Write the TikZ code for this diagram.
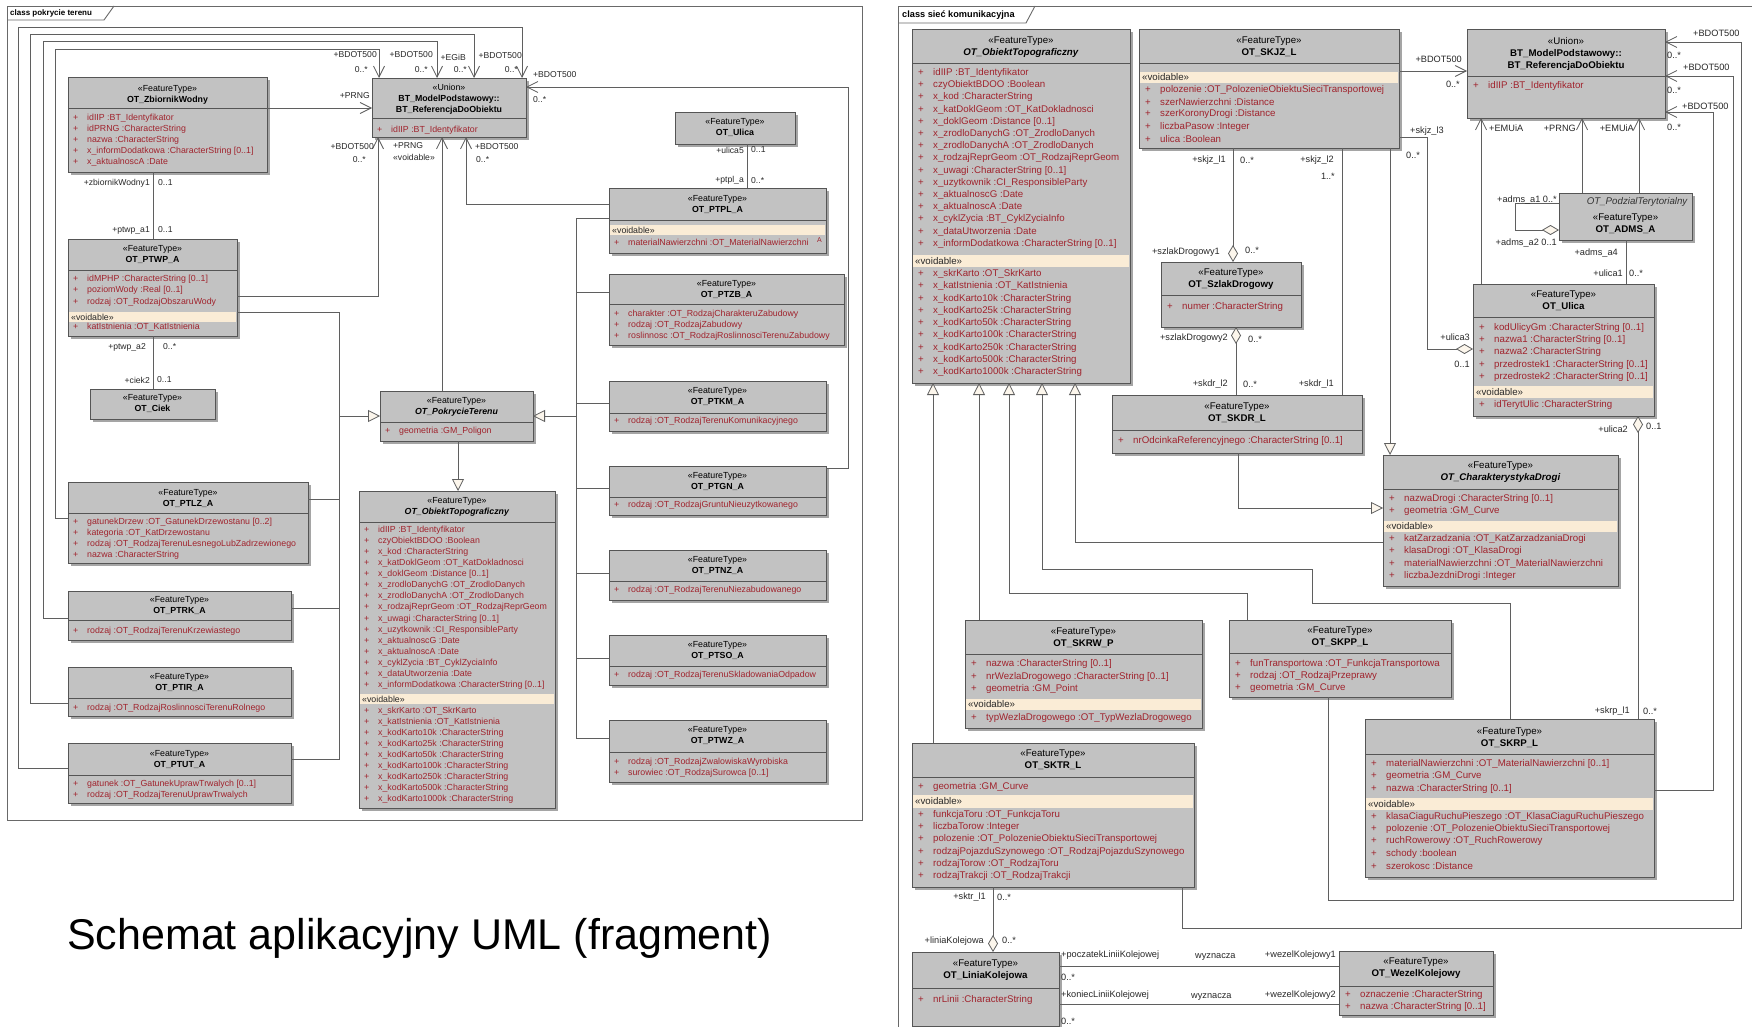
\documentclass[tikz,border=0pt]{standalone}
\usepackage{fontspec}
\setmainfont{Liberation Sans}
\usetikzlibrary{arrows.meta}

\definecolor{boxfill}{RGB}{194,194,194}
\definecolor{boxline}{RGB}{85,85,85}
\definecolor{shadowc}{RGB}{165,165,165}
\definecolor{attrc}{RGB}{160,35,45}
\definecolor{voidc}{RGB}{250,236,214}
\definecolor{linec}{RGB}{95,95,95}
\definecolor{framec}{RGB}{105,105,105}
\definecolor{trifill}{RGB}{252,246,236}
\definecolor{labc}{RGB}{40,40,40}

\newcounter{labcnt}

% class box: name, x1, y1, x2, y2, separator y, header centre y, header text
\newcommand\umlbox[8]{%
  \fill[shadowc] ({#2+3},{#3+3}) rectangle ({#4+3},{#5+3});
  \node[umlrect, anchor=north west, minimum width={#4-#2}, minimum height={#5-#3}] (#1) at (#2,#3) {};
  \draw[sepline] (#2,#6) -- (#4,#6);
  \node[hdr] (#1-h) at ({(#2+#4)/2},#7) {#8};
}
% attribute lines: name prefix, x, first y, line step, list
\newcommand\attrs[5]{%
  \foreach \at [count=\ai] in {#5}{%
    \node[attr] (#1-\ai) at (#2,{#3+(\ai-1)*#4}) {\makebox[\plusw][l]{+}\ignorespaces\at};}
}
% <<voidable>> band: name, x1, x2, y1, y2
\newcommand\voidband[5]{%
  \fill[voidc] ({#2+1},#4) rectangle ({#3-1},#5);
  \node[vtext] (#1) at ({#2+3},{(#4+#5)/2}) {«voidable»};
}
% role / multiplicity label: anchor, x, y, text
\newcommand\lab[4]{\stepcounter{labcnt}\node[lbl,anchor=#1] (lab\arabic{labcnt}) at (#2,#3) {#4};}
\newcommand\ft[1]{«FeatureType»\\\textbf{#1}}
\newcommand\fti[1]{«FeatureType»\\\textbf{\textit{#1}}}

\begin{document}
\catcode`\_=12
\begin{tikzpicture}[x=1pt,y=-1pt,
  umlrect/.style={draw=boxline, fill=boxfill, line width=0.9pt, inner sep=0pt, outer sep=0pt},
  sepline/.style={draw=boxline, line width=0.9pt},
  hdr/.style={font=\pf, align=center, inner sep=0pt, text=black},
  attr/.style={font=\pf, anchor=west, inner sep=0pt, text=attrc},
  vtext/.style={font=\pf, anchor=west, inner sep=0pt, text=black!85},
  lbl/.style={font=\lf, inner sep=0pt, text=labc},
  assoc/.style={draw=linec, line width=0.8pt},
  nav/.style={-{Straight Barb[length=11pt,width=11pt,line width=0.8pt]}},
  gen/.style={-{Triangle[length=12pt,width=12pt,fill=trifill,line width=0.8pt]}},
  agg/.style={-{Diamond[length=17pt,width=10pt,fill=trifill,line width=0.8pt]}},
  framel/.style={draw=framec, line width=0.9pt}]

\useasboundingbox (0,0) rectangle (1752,1027);
\fill[white] (0,0) rectangle (1752,1027);

% ================= class pokrycie terenu =================
\def\pf{\fontsize{8.8}{11}\selectfont}
\def\lf{\fontsize{8.6}{10}\selectfont}
\def\plusw{14pt}

\draw[framel] (7,6) rectangle (862,820);
\draw[framel] (7,20) -- (104,20) -- (114,6);
\node[anchor=west, inner sep=0pt, font=\bfseries\fontsize{8}{9}\selectfont] (tabL) at (10,13) {class pokrycie terenu};

\umlbox{zw}{68}{77}{267}{172}{108}{94.5}{\ft{OT_ZbiornikWodny}}
\attrs{zw-a}{73}{118}{11}{idIIP :BT_Identyfikator, idPRNG :CharacterString, nazwa :CharacterString, x_informDodatkowa :CharacterString [0..1], x_aktualnoscA :Date}

\umlbox{refL}{372}{78}{526}{137}{118}{99}{«Union»\\\textbf{BT_ModelPodstawowy::}\\\textbf{BT_ReferencjaDoObiektu}}
\attrs{refL-a}{377}{130}{11}{idIIP :BT_Identyfikator}

\umlbox{ulL}{675}{112}{795}{144}{144}{128}{\ft{OT_Ulica}}

\umlbox{ptpl}{609}{188}{826}{253}{220}{204.5}{\ft{OT_PTPL_A}}
\voidband{ptpl-v}{609}{826}{225}{235}
\attrs{ptpl-a}{614}{243}{11}{materialNawierzchni :OT_MaterialNawierzchni}
\node[attr, font=\fontsize{7}{8}\selectfont] (ptpl-x) at (817,240) {A};

\umlbox{ptwp}{68}{239}{237}{336}{270}{254.5}{\ft{OT_PTWP_A}}
\attrs{ptwp-a}{73}{279}{11.5}{idMPHP :CharacterString [0..1], poziomWody :Real [0..1], rodzaj :OT_RodzajObszaruWody}
\voidband{ptwp-v}{68}{237}{312}{322}
\attrs{ptwp-b}{73}{327.5}{11}{katIstnienia :OT_KatIstnienia}

\umlbox{ciek}{90}{389}{215}{419}{419}{404}{\ft{OT_Ciek}}

\umlbox{pokr}{380}{391}{533}{441}{422}{407}{\fti{OT_PokrycieTerenu}}
\attrs{pokr-a}{385}{431.5}{11}{geometria :GM_Poligon}

\umlbox{obL}{359}{491}{555}{808}{522}{506.5}{\fti{OT_ObiektTopograficzny}}
\attrs{obL-a}{364}{530}{11.1}{idIIP :BT_Identyfikator, czyObiektBDOO :Boolean, x_kod :CharacterString, x_katDoklGeom :OT_KatDokladnosci, x_doklGeom :Distance [0..1], x_zrodloDanychG :OT_ZrodloDanych, x_zrodloDanychA :OT_ZrodloDanych, x_rodzajReprGeom :OT_RodzajReprGeom, x_uwagi :CharacterString [0..1], x_uzytkownik :CI_ResponsibleParty, x_aktualnoscG :Date, x_aktualnoscA :Date, x_cyklZycia :BT_CyklZyciaInfo, x_dataUtworzenia :Date, x_informDodatkowa :CharacterString [0..1]}
\voidband{obL-v}{359}{555}{694}{704}
\attrs{obL-b}{364}{711}{11}{x_skrKarto :OT_SkrKarto, x_katIstnienia :OT_KatIstnienia, x_kodKarto10k :CharacterString, x_kodKarto25k :CharacterString, x_kodKarto50k :CharacterString, x_kodKarto100k :CharacterString, x_kodKarto250k :CharacterString, x_kodKarto500k :CharacterString, x_kodKarto1000k :CharacterString}

\umlbox{ptzb}{609}{274}{844}{345}{304}{289.5}{\ft{OT_PTZB_A}}
\attrs{ptzb-a}{614}{314}{11}{charakter :OT_RodzajCharakteruZabudowy, rodzaj :OT_RodzajZabudowy, roslinnosc :OT_RodzajRoslinnosciTerenuZabudowy}
\umlbox{ptkm}{609}{381}{826}{431}{413}{397}{\ft{OT_PTKM_A}}
\attrs{ptkm-a}{614}{421.5}{11}{rodzaj :OT_RodzajTerenuKomunikacyjnego}
\umlbox{ptgn}{609}{466}{826}{515}{497}{482}{\ft{OT_PTGN_A}}
\attrs{ptgn-a}{614}{505.5}{11}{rodzaj :OT_RodzajGruntuNieuzytkowanego}
\umlbox{ptnz}{609}{550}{826}{600}{581}{566}{\ft{OT_PTNZ_A}}
\attrs{ptnz-a}{614}{590.5}{11}{rodzaj :OT_RodzajTerenuNiezabudowanego}
\umlbox{ptso}{609}{635}{826}{685}{666}{651}{\ft{OT_PTSO_A}}
\attrs{ptso-a}{614}{675.5}{11}{rodzaj :OT_RodzajTerenuSkladowaniaOdpadow}
\umlbox{ptwz}{609}{720}{826}{782}{752}{736}{\ft{OT_PTWZ_A}}
\attrs{ptwz-a}{614}{762}{11}{rodzaj :OT_RodzajZwalowiskaWyrobiska, surowiec :OT_RodzajSurowca [0..1]}

\umlbox{ptlz}{68}{482}{308}{563}{513}{498.5}{\ft{OT_PTLZ_A}}
\attrs{ptlz-a}{73}{522}{11}{gatunekDrzew :OT_GatunekDrzewostanu [0..2], kategoria :OT_KatDrzewostanu, rodzaj :OT_RodzajTerenuLesnegoLubZadrzewionego, nazwa :CharacterString}
\umlbox{ptrk}{68}{591}{291}{640}{620}{606}{\ft{OT_PTRK_A}}
\attrs{ptrk-a}{73}{631}{11}{rodzaj :OT_RodzajTerenuKrzewiastego}
\umlbox{ptir}{68}{667}{291}{716}{698}{683}{\ft{OT_PTIR_A}}
\attrs{ptir-a}{73}{708}{11}{rodzaj :OT_RodzajRoslinnosciTerenuRolnego}
\umlbox{ptut}{68}{743}{291}{803}{775}{759.5}{\ft{OT_PTUT_A}}
\attrs{ptut-a}{73}{784}{11}{gatunek :OT_GatunekUprawTrwalych [0..1], rodzaj :OT_RodzajTerenuUprawTrwalych}

% associations to the union
\draw[assoc,nav] (zw.east |- 0,108) -- (refL.west |- 0,108);
\draw[assoc] (153,0 |- zw.south) -- (153,0 |- ptwp.north);
\draw[assoc] (153,0 |- ptwp.south) -- (153,0 |- ciek.north);
\draw[assoc,nav] (ptwp.east |- 0,296) -| (378,0 |- refL.south);
\draw[assoc,nav] (442,0 |- pokr.north) -- (442,0 |- refL.south);
\draw[assoc,nav] (ptpl.west |- 0,204) -| (466,0 |- refL.south);
\draw[assoc] (747,0 |- ulL.south) -- (747,0 |- ptpl.north);
\draw[assoc,nav] (ptgn.east |- 0,468) -| (848,87) -- (refL.east |- 0,87);
\draw[assoc,nav] (ptlz.west |- 0,518) -| (55,49) -| (379,0 |- refL.north);
\draw[assoc,nav] (ptrk.west |- 0,618) -| (43,41) -| (437,0 |- refL.north);
\draw[assoc,nav] (ptir.west |- 0,703) -| (30,34) -| (474,0 |- refL.north);
\draw[assoc,nav] (ptut.west |- 0,768) -| (18,27) -| (522,0 |- refL.north);

% generalisation trees
\coordinate (treeR) at (576,416);
\coordinate (treeL) at (339,416);
\draw[assoc] (ptpl.west |- 0,218) -| (576,738) -- (ptwz.west |- 0,738);
\draw[assoc] (576,292) -- (ptzb.west |- 0,292);
\draw[assoc] (576,403) -- (ptkm.west |- 0,403);
\draw[assoc] (576,488) -- (ptgn.west |- 0,488);
\draw[assoc] (576,573) -- (ptnz.west |- 0,573);
\draw[assoc] (576,658) -- (ptso.west |- 0,658);
\draw[assoc,gen] (treeR) -- (pokr.east |- treeR);
\draw[assoc] (ptwp.east |- 0,312) -| (339,759) -- (ptut.east |- 0,759);
\draw[assoc] (339,499) -- (ptlz.east |- 0,499);
\draw[assoc] (339,608) -- (ptrk.east |- 0,608);
\draw[assoc,gen] (treeL) -- (pokr.west |- treeL);
\draw[assoc,gen] (458,0 |- pokr.south) -- (458,0 |- obL.north);

\lab{east}{370}{96}{+PRNG}
\lab{east}{150}{183}{+zbiornikWodny1}
\lab{west}{158}{183}{0..1}
\lab{east}{150}{230}{+ptwp_a1}
\lab{west}{158}{230}{0..1}
\lab{east}{146}{347}{+ptwp_a2}
\lab{west}{163}{347}{0..*}
\lab{east}{150}{380}{+ciek2}
\lab{west}{157}{380}{0..1}
\lab{east}{374}{147}{+BDOT500}
\lab{east}{366}{160}{0..*}
\lab{west}{393}{146}{+PRNG}
\lab{west}{393}{157}{«voidable»}
\lab{west}{475}{147}{+BDOT500}
\lab{west}{476}{160}{0..*}
\lab{east}{377}{55}{+BDOT500}
\lab{east}{368}{70}{0..*}
\lab{east}{433}{55}{+BDOT500}
\lab{east}{428}{70}{0..*}
\lab{east}{466}{57}{+EGiB}
\lab{east}{467}{70}{0..*}
\lab{east}{522}{56}{+BDOT500}
\lab{east}{518}{70}{0..*}
\lab{west}{533}{75}{+BDOT500}
\lab{west}{533}{100}{0..*}
\lab{east}{744}{150}{+ulica5}
\lab{west}{751}{150}{0..1}
\lab{east}{744}{180}{+ptpl_a}
\lab{west}{751}{181}{0..*}

\node[anchor=west, inner sep=0pt, font=\fontsize{43}{50}\selectfont] (caption) at (67,938) {Schemat aplikacyjny UML (fragment)};

% ================= class siec komunikacyjna =================
\def\pf{\fontsize{9.7}{12.2}\selectfont}
\def\lf{\fontsize{9.2}{11}\selectfont}
\def\plusw{15pt}

\draw[framel] (898,1030) -- (898,6) -- (1755,6);
\draw[framel] (898,23) -- (1026,23) -- (1035,6);
\node[anchor=west, inner sep=0pt, font=\bfseries\fontsize{9.2}{10}\selectfont] (tabR) at (902,15) {class sieć komunikacyjna};

\umlbox{obR}{912}{29}{1130}{383}{63}{47}{\fti{OT_ObiektTopograficzny}}
\attrs{obR-a}{918}{73}{12.2}{idIIP :BT_Identyfikator, czyObiektBDOO :Boolean, x_kod :CharacterString, x_katDoklGeom :OT_KatDokladnosci, x_doklGeom :Distance [0..1], x_zrodloDanychG :OT_ZrodloDanych, x_zrodloDanychA :OT_ZrodloDanych, x_rodzajReprGeom :OT_RodzajReprGeom, x_uwagi :CharacterString [0..1], x_uzytkownik :CI_ResponsibleParty, x_aktualnoscG :Date, x_aktualnoscA :Date, x_cyklZycia :BT_CyklZyciaInfo, x_dataUtworzenia :Date, x_informDodatkowa :CharacterString [0..1]}
\voidband{obR-v}{912}{1130}{255}{267}
\attrs{obR-b}{918}{274}{12.25}{x_skrKarto :OT_SkrKarto, x_katIstnienia :OT_KatIstnienia, x_kodKarto10k :CharacterString, x_kodKarto25k :CharacterString, x_kodKarto50k :CharacterString, x_kodKarto100k :CharacterString, x_kodKarto250k :CharacterString, x_kodKarto500k :CharacterString, x_kodKarto1000k :CharacterString}

\umlbox{skjz}{1139}{29}{1399}{148}{63}{47}{\ft{OT_SKJZ_L}}
\voidband{skjz-v}{1139}{1399}{72}{83}
\attrs{skjz-a}{1145}{90}{12.2}{polozenie :OT_PolozenieObiektuSieciTransportowej, szerNawierzchni :Distance, szerKoronyDrogi :Distance, liczbaPasow :Integer, ulica :Boolean}

\umlbox{refR}{1467}{29}{1665}{118}{76}{54}{«Union»\\\textbf{BT_ModelPodstawowy::}\\\textbf{BT_ReferencjaDoObiektu}}
\attrs{refR-a}{1473}{86}{12}{idIIP :BT_Identyfikator}

\umlbox{adms}{1559}{193}{1692}{240}{240}{224}{\ft{OT_ADMS_A}}
\node[hdr, anchor=east, text=black!80] (adms-p) at (1688,202) {\textit{OT_PodzialTerytorialny}};

\umlbox{szlak}{1161}{262}{1301}{327}{295}{279.5}{\ft{OT_SzlakDrogowy}}
\attrs{szlak-a}{1167}{307}{12}{numer :CharacterString}

\umlbox{skdr}{1112}{395}{1362}{453}{430}{413}{\ft{OT_SKDR_L}}
\attrs{skdr-a}{1118}{441}{12}{nrOdcinkaReferencyjnego :CharacterString [0..1]}

\umlbox{ulR}{1473}{284}{1654}{416}{317}{301}{\ft{OT_Ulica}}
\attrs{ulR-a}{1479}{328}{12.2}{kodUlicyGm :CharacterString [0..1], nazwa1 :CharacterString [0..1], nazwa2 :CharacterString, przedrostek1 :CharacterString [0..1], przedrostek2 :CharacterString [0..1]}
\voidband{ulR-v}{1473}{1654}{386}{398}
\attrs{ulR-b}{1479}{405}{12}{idTerytUlic :CharacterString}

\umlbox{chd}{1383}{455}{1618}{586}{489}{472}{\fti{OT_CharakterystykaDrogi}}
\attrs{chd-a}{1389}{499}{12}{nazwaDrogi :CharacterString [0..1], geometria :GM_Curve}
\voidband{chd-v}{1383}{1618}{521}{532}
\attrs{chd-b}{1389}{539}{12.3}{katZarzadzania :OT_KatZarzadzaniaDrogi, klasaDrogi :OT_KlasaDrogi, materialNawierzchni :OT_MaterialNawierzchni, liczbaJezdniDrogi :Integer}

\umlbox{skrw}{965}{620}{1202}{728}{654}{637.5}{\ft{OT_SKRW_P}}
\attrs{skrw-a}{971}{664}{12.7}{nazwa :CharacterString [0..1], nrWezlaDrogowego :CharacterString [0..1], geometria :GM_Point}
\voidband{skrw-v}{965}{1202}{699}{710}
\attrs{skrw-b}{971}{718}{12}{typWezlaDrogowego :OT_TypWezlaDrogowego}

\umlbox{skpp}{1229}{620}{1451}{697}{653}{637}{\ft{OT_SKPP_L}}
\attrs{skpp-a}{1235}{664}{12.2}{funTransportowa :OT_FunkcjaTransportowa, rodzaj :OT_RodzajPrzeprawy, geometria :GM_Curve}

\umlbox{skrp}{1365}{719}{1654}{877}{754}{737.5}{\ft{OT_SKRP_L}}
\attrs{skrp-a}{1371}{764}{12.4}{materialNawierzchni :OT_MaterialNawierzchni [0..1], geometria :GM_Curve, nazwa :CharacterString [0..1]}
\voidband{skrp-v}{1365}{1654}{798}{810}
\attrs{skrp-b}{1371}{816.5}{12.4}{klasaCiaguRuchuPieszego :OT_KlasaCiaguRuchuPieszego, polozenie :OT_PolozenieObiektuSieciTransportowej, ruchRowerowy :OT_RuchRowerowy, schody :boolean, szerokosc :Distance}

\umlbox{sktr}{912}{743}{1194}{887}{777}{759.5}{\ft{OT_SKTR_L}}
\attrs{sktr-a}{918}{787}{12}{geometria :GM_Curve}
\voidband{sktr-v}{912}{1194}{795}{808}
\attrs{sktr-b}{918}{815}{12.2}{funkcjaToru :OT_FunkcjaToru, liczbaTorow :Integer, polozenie :OT_PolozenieObiektuSieciTransportowej, rodzajPojazduSzynowego :OT_RodzajPojazduSzynowego, rodzajTorow :OT_RodzajToru, rodzajTrakcji :OT_RodzajTrakcji}

\umlbox{linia}{912}{952}{1059}{1026}{988}{970.5}{\ft{OT_LiniaKolejowa}}
\attrs{linia-a}{918}{1000}{12}{nrLinii :CharacterString}

\umlbox{wezel}{1339}{951}{1493}{1015}{986}{968.5}{\ft{OT_WezelKolejowy}}
\attrs{wezel-a}{1345}{995}{12.3}{oznaczenie :CharacterString, nazwa :CharacterString [0..1]}

% associations
\draw[assoc,nav] (skjz.east |- 0,71) -- (refR.west |- 0,71);
\draw[assoc,agg] (skjz.east |- 0,137) -| (1427,349) -- (ulR.west |- 0,349);
\draw[assoc,gen] (1390,0 |- skjz.south) -- (1390,0 |- chd.north);
\draw[assoc,nav] (1481,0 |- ulR.north) -- (1481,0 |- refR.south);
\draw[assoc,nav] (1582,0 |- adms.north) -- (1582,0 |- refR.south);
\draw[assoc,nav] (1639,0 |- adms.north) -- (1639,0 |- refR.south);
\draw[assoc] (1626,0 |- adms.south) -- (1626,0 |- ulR.north);
\draw[assoc,agg] (adms.west |- 0,203) -| (1515,230) -- (adms.west |- 0,230);
\draw[assoc,nav] (skrp.east |- 0,790) -| (1713,112) -- (refR.east |- 0,112);
\draw[assoc,nav] (1328,0 |- skpp.south) |- (1733,900) |- (refR.east |- 0,76);
\draw[assoc,nav] (1182,0 |- sktr.south) |- (1741,928) |- (refR.east |- 0,42);
\draw[assoc,agg] (1638,0 |- skrp.north) -- (1638,0 |- ulR.south);
\draw[assoc,agg] (1233,0 |- skjz.south) -- (1233,0 |- szlak.north);
\draw[assoc,agg] (1236,0 |- skdr.north) -- (1236,0 |- szlak.south);
\draw[assoc] (1342,0 |- skjz.south) -- (1342,0 |- skdr.north);
\draw[assoc,agg] (993,0 |- sktr.south) -- (993,0 |- linia.north);
\draw[assoc] (linia.east |- 0,966) -- (wezel.west |- 0,966);
\draw[assoc] (linia.east |- 0,1004) -- (wezel.west |- 0,1004);

% generalisations
\draw[assoc,gen] (933,0 |- sktr.north) -- (933,0 |- obR.south);
\draw[assoc,gen] (979,0 |- skrw.north) -- (979,0 |- obR.south);
\draw[assoc,gen] (1247,0 |- skpp.north) |- (1009,593) -- (1009,0 |- obR.south);
\draw[assoc,gen] (1510,0 |- skrp.north) |- (1312,603) |- (1042,569) -- (1042,0 |- obR.south);
\draw[assoc,gen] (chd.west |- 0,542) -| (1075,0 |- obR.south);
\draw[assoc,gen] (1238,0 |- skdr.south) |- (chd.west |- 0,508);

\lab{east}{1462}{59}{+BDOT500}
\lab{east}{1460}{84}{0..*}
\lab{west}{1410}{131}{+skjz_l3}
\lab{west}{1406}{155}{0..*}
\lab{west}{1489}{128}{+EMUiA}
\lab{east}{1576}{128}{+PRNG}
\lab{east}{1634}{128}{+EMUiA}
\lab{west}{1693}{33}{+BDOT500}
\lab{west}{1667}{55}{0..*}
\lab{west}{1683}{67}{+BDOT500}
\lab{west}{1667}{90}{0..*}
\lab{west}{1682}{106}{+BDOT500}
\lab{west}{1667}{127}{0..*}
\lab{east}{1557}{200}{+adms_a1 0..*}
\lab{east}{1557}{243}{+adms_a2 0..1}
\lab{east}{1618}{253}{+adms_a4}
\lab{east}{1623}{273}{+ulica1}
\lab{west}{1629}{273}{0..*}
\lab{east}{1470}{337}{+ulica3}
\lab{east}{1470}{364}{0..1}
\lab{east}{1628}{429}{+ulica2}
\lab{west}{1646}{426}{0..1}
\lab{east}{1630}{711}{+skrp_l1}
\lab{west}{1643}{711}{0..*}
\lab{east}{1226}{160}{+skjz_l1}
\lab{west}{1240}{160}{0..*}
\lab{east}{1334}{160}{+skjz_l2}
\lab{east}{1335}{176}{1..*}
\lab{east}{1220}{252}{+szlakDrogowy1}
\lab{west}{1245}{250}{0..*}
\lab{east}{1228}{338}{+szlakDrogowy2}
\lab{west}{1248}{339}{0..*}
\lab{east}{1228}{384}{+skdr_l2}
\lab{west}{1243}{384}{0..*}
\lab{east}{1334}{384}{+skdr_l1}
\lab{east}{986}{897}{+sktr_l1}
\lab{west}{997}{897}{0..*}
\lab{east}{984}{941}{+liniaKolejowa}
\lab{west}{1002}{940}{0..*}
\lab{west}{1061}{955}{+poczatekLiniiKolejowej}
\lab{west}{1195}{957}{wyznacza}
\lab{east}{1336}{955}{+wezelKolejowy1}
\lab{west}{1061}{977}{0..*}
\lab{west}{1061}{995}{+koniecLiniiKolejowej}
\lab{west}{1191}{997}{wyznacza}
\lab{east}{1336}{995}{+wezelKolejowy2}
\lab{west}{1061}{1021}{0..*}

\end{tikzpicture}
\end{document}
